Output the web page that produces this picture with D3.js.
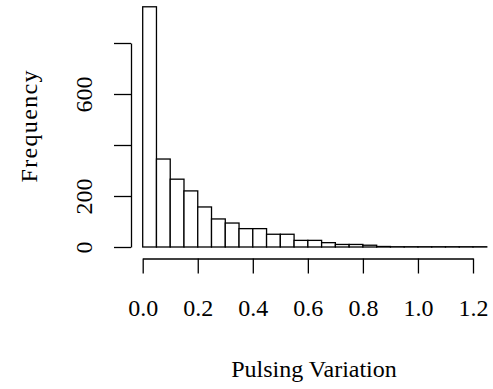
<!DOCTYPE html>
<html>
<head>
<meta charset="utf-8">
<script src="https://cdn.jsdelivr.net/npm/d3@7"></script>
<style>
  body { margin: 0; background: #fff; }
  text { font-family: "Liberation Serif", "DejaVu Serif", serif; }
</style>
</head>
<body>
<figure id="hist" style="margin:0"></figure>
<script>
// histogram bins (width 0.05) and counts
const binStarts = [0.00, 0.05, 0.10, 0.15, 0.20, 0.25, 0.30, 0.35, 0.40, 0.45,
                   0.50, 0.55, 0.60, 0.65, 0.70, 0.75, 0.80, 0.85, 0.90, 0.95,
                   1.00, 1.05, 1.10, 1.15, 1.20];
const binWidth = 0.05;
const counts = [942, 345, 266, 220, 157, 110, 94, 72, 72, 50,
                50, 26, 26, 17, 10, 10, 7, 2, 1, 1,
                1, 1, 1, 1, 1];
const xTicks = [0, 0.2, 0.4, 0.6, 0.8, 1.0, 1.2];
const yTicks = [0, 200, 400, 600, 800];
const yTickLabels = ["0", "200", "", "600", ""];

const width = 493, height = 389;
const fontSize = 24;

const svg = d3.select("figure#hist")
  .append("svg")
  .attr("width", width)
  .attr("height", height);

// scales
const x = d3.scaleLinear()
  .domain([0, 1.2])
  .range([142.7, 473]);

const y = d3.scaleLinear()
  .domain([0, 800])
  .range([247, 43]);

// bars
svg.selectAll("rect.bar")
  .data(binStarts)
  .enter()
  .append("rect")
  .attr("class", "bar")
  .attr("x", d => x(d))
  .attr("y", (d, i) => y(counts[i]))
  .attr("width", d => x(d + binWidth) - x(d))
  .attr("height", (d, i) => y(0) - y(counts[i]))
  .attr("fill", "#fff")
  .attr("stroke", "#000")
  .attr("stroke-width", 1.3);

// x axis
const xAxis = svg.append("g")
  .attr("transform", "translate(0,258.5)")
  .call(d3.axisBottom(x).tickValues(xTicks).tickSize(15).tickSizeOuter(0)
    .tickFormat(d3.format(".1f")));
xAxis.selectAll("text")
  .attr("y", 57)
  .attr("dy", 0)
  .style("font-size", fontSize + "px")
  .attr("fill", "#000");

// y axis
const yAxis = svg.append("g")
  .attr("transform", "translate(131,0)")
  .call(d3.axisLeft(y).tickValues(yTicks).tickSize(17).tickSizeOuter(0)
    .tickFormat((d, i) => yTickLabels[i]));
yAxis.selectAll("text")
  .attr("x", 0)
  .attr("y", -39)
  .attr("dy", 0)
  .attr("transform", "rotate(-90)")
  .attr("text-anchor", "middle")
  .style("font-size", fontSize + "px")
  .attr("fill", "#000");

svg.selectAll(".domain, .tick line")
  .attr("stroke", "#000")
  .attr("stroke-width", 1.3);

// axis titles
svg.append("text")
  .attr("x", 314)
  .attr("y", 377)
  .attr("text-anchor", "middle")
  .style("font-size", fontSize + "px")
  .text("Pulsing Variation");

svg.append("text")
  .attr("transform", "translate(36.7,126.5) rotate(-90)")
  .attr("text-anchor", "middle")
  .attr("textLength", 112)
  .attr("lengthAdjust", "spacing")
  .style("font-size", fontSize + "px")
  .text("Frequency");
</script>
</body>
</html>
